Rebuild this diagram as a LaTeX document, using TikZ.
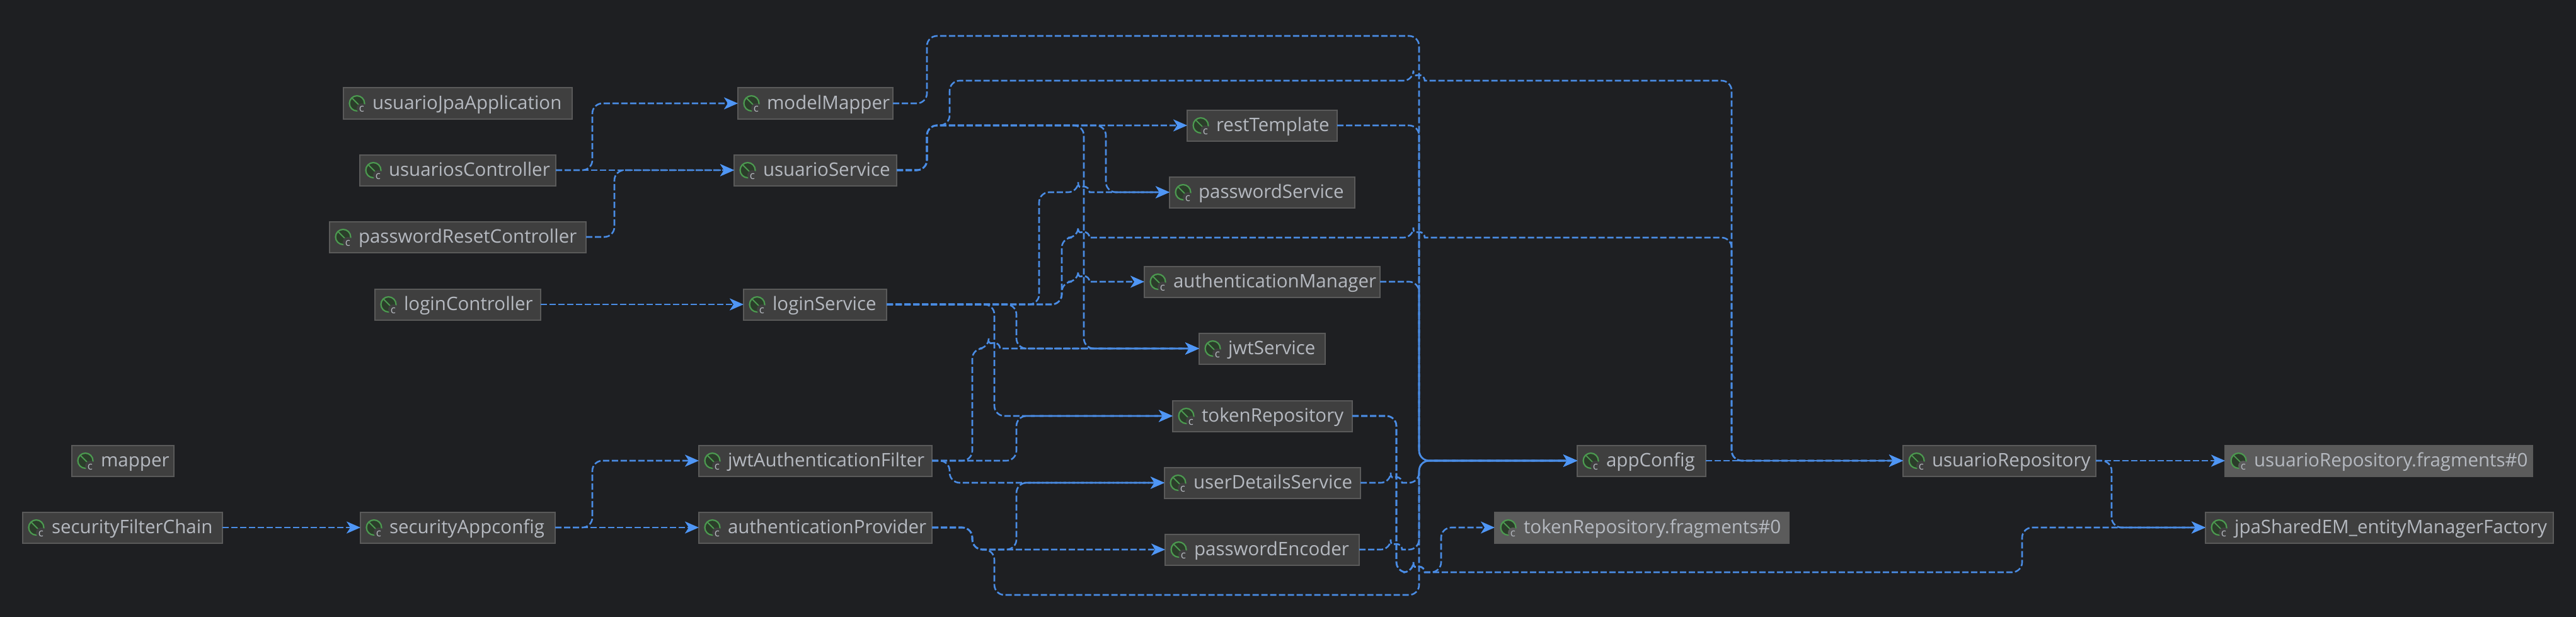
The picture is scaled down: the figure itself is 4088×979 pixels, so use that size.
\documentclass[tikz,border=0pt]{standalone}
\usepackage{fontspec}
\setmainfont{Open Sans}
\usetikzlibrary{arrows.meta}
\definecolor{bgc}{HTML}{1E1F22}
\definecolor{boxc}{HTML}{3F3F3F}
\definecolor{fragc}{HTML}{5B5B5B}
\definecolor{edgec}{HTML}{5A5A5A}
\definecolor{textc}{HTML}{B5B9C0}
\definecolor{linec}{HTML}{4A8CE4}
\definecolor{tipc}{HTML}{4F96F5}
\definecolor{leafc}{HTML}{4C9A50}
\definecolor{leaff}{HTML}{2B3D2A}
\tikzset{
  beanbox/.style={draw=edgec,line width=2pt,inner sep=0pt,outer sep=0pt,minimum height=49pt},
  beanlabel/.style={text=textc,inner sep=0pt,outer sep=0pt,font=\fontsize{29.5}{35}\selectfont},
  beanc/.style={text=textc,inner sep=0pt,outer sep=0pt,font=\fontsize{17}{17}\selectfont},
  dep/.style={draw=linec,line width=2.6pt,dash pattern=on 10pt off 4pt,rounded corners=16pt,
    -{Stealth[length=22pt,width=19pt,inset=6pt,color=tipc]}}
}
\newcommand\bean[6][boxc]{%
  \node[beanbox,fill=#1,minimum width={(#4-#3)*1pt}] (#2) at ({(#3+#4)/2},#5) {};
  \node[beanlabel,anchor=base west] (#2-t) at (#3+46,#5+9) {#6};
  \fill[leaff] (#3+21.5,#5) circle[radius=12];
  \draw[leafc,line width=2.2pt] (#3+21.5,#5) circle[radius=12];
  \draw[leafc,line width=1.8pt] (#3+14,#5-8) -- (#3+29,#5+7);
  \fill[#1] (#3+29,#5+8) circle[radius=8];
  \node[beanc,anchor=base] (#2-c) at (#3+29,#5+14) {c};
}
\newcommand\hop[2]{-- (#1-9,#2) [sharp corners] arc[start angle=180,end angle=360,radius=9] -- (#1+11,#2) [rounded corners=16pt] }
\begin{document}
\begin{tikzpicture}[x=1pt,y=-1pt]
\useasboundingbox (0,0) rectangle (4088,979);
\fill[bgc] (0,0) rectangle (4088,979);
\bean{uJ}{545}{908}{164}{usuarioJpaApplication}
\bean{uC}{571}{882}{270}{usuariosController}
\bean{pR}{523}{930}{376}{passwordResetController}
\bean{lC}{595}{858}{483}{loginController}
\bean{mP}{114}{276}{731}{mapper}
\bean{sF}{36}{353}{837}{securityFilterChain}
\bean{sA}{572}{881}{837}{securityAppconfig}
\bean{mM}{1171}{1417}{164}{modelMapper}
\bean{uS}{1165}{1423}{270}{usuarioService}
\bean{lS}{1180}{1407}{483}{loginService}
\bean{jA}{1109}{1479}{731}{jwtAuthenticationFilter}
\bean{aP}{1109}{1479}{837}{authenticationProvider}
\bean{rT}{1884}{2122}{199}{restTemplate}
\bean{pS}{1856}{2150}{305}{passwordService}
\bean{aM}{1816}{2190}{447}{authenticationManager}
\bean{jS}{1903}{2103}{553}{jwtService}
\bean{tR}{1861}{2146}{660}{tokenRepository}
\bean{uD}{1848}{2159}{766}{userDetailsService}
\bean{pE}{1849}{2157}{872}{passwordEncoder}
\bean[fragc]{tF}{2372}{2839}{837}{tokenRepository.fragments\#0}
\bean{aC}{2503}{2707}{731}{appConfig}
\bean{uR}{3020}{3326}{731}{usuarioRepository}
\bean[fragc]{uF}{3531}{4019}{731}{usuarioRepository.fragments\#0}
\bean{jP}{3500}{4052}{837}{jpaSharedEM\_entityManagerFactory}
\draw[dep] (uC.east) -| (940,164) -- (mM.west);
\draw[dep] (uC.east) -- (uS.west);
\draw[dep] (pR.east) -| (975,270) -- (uS.west);
\draw[dep] (lC.east) -- (lS.west);
\draw[dep] (mM.east) -| (1471,57) -| (2252,731) -- (aC.west);
\draw[dep] (uS.east) -| (1471,199) -| (1507,128) \hop{2252}{128} -| (2748,731) -- (uR.west);
\draw[dep] (uS.east) -| (1471,199) -- (rT.west);
\draw[dep] (uS.east) -| (1471,199) -| (1755,305) -- (pS.west);
\draw[dep] (uS.east) -| (1471,199) -| (1720,553) -- (jS.west);
\draw[dep] (rT.east) -| (2252,731) -- (aC.west);
\draw[dep] (lS.east) -| (1649,305) \hop{1720}{305} -- (pS.west);
\draw[dep] (lS.east) -| (1685,377) \hop{1720}{377} \hop{2252}{377} -| (2748,731) -- (uR.west);
\draw[dep] (lS.east) -| (1685,447) \hop{1720}{447} -- (aM.west);
\draw[dep] (lS.east) -| (1578,660) -- (tR.west);
\draw[dep] (lS.east) -| (1613,553) -- (jS.west);
\draw[dep] (aM.east) -| (2252,731) -- (aC.west);
\draw[dep] (jA.east) -| (1543,553) \hop{1578}{553} -- (jS.west);
\draw[dep] (jA.east) -| (1613,660) -- (tR.west);
\draw[dep] (jA.east) -| (1507,766) -- (uD.west);
\draw[dep] (aP.east) -| (1543,872) -- (pE.west);
\draw[dep] (aP.east) -| (1543,872) -| (1613,766) -- (uD.west);
\draw[dep] (aP.east) -| (1543,872) -| (1578,944) -| (2252,731) -- (aC.west);
\draw[dep] (tR.east) -| (2216,908) \hop{2252}{908} -| (2287,837) -- (tF.west);
\draw[dep] (tR.east) -| (2216,908) \hop{2252}{908} -| (3209,837) -- (jP.west);
\draw[dep] (uD.east) \hop{2216}{766} -| (2252,731) -- (aC.west);
\draw[dep] (pE.east) \hop{2216}{872} -| (2252,731) -- (aC.west);
\draw[dep] (aC.east) -- (uR.west);
\draw[dep] (uR.east) -- (uF.west);
\draw[dep] (uR.east) -| (3351,837) -- (jP.west);
\draw[dep] (sF.east) -- (sA.west);
\draw[dep] (sA.east) -| (940,731) -- (jA.west);
\draw[dep] (sA.east) -- (aP.west);
\end{tikzpicture}
\end{document}
